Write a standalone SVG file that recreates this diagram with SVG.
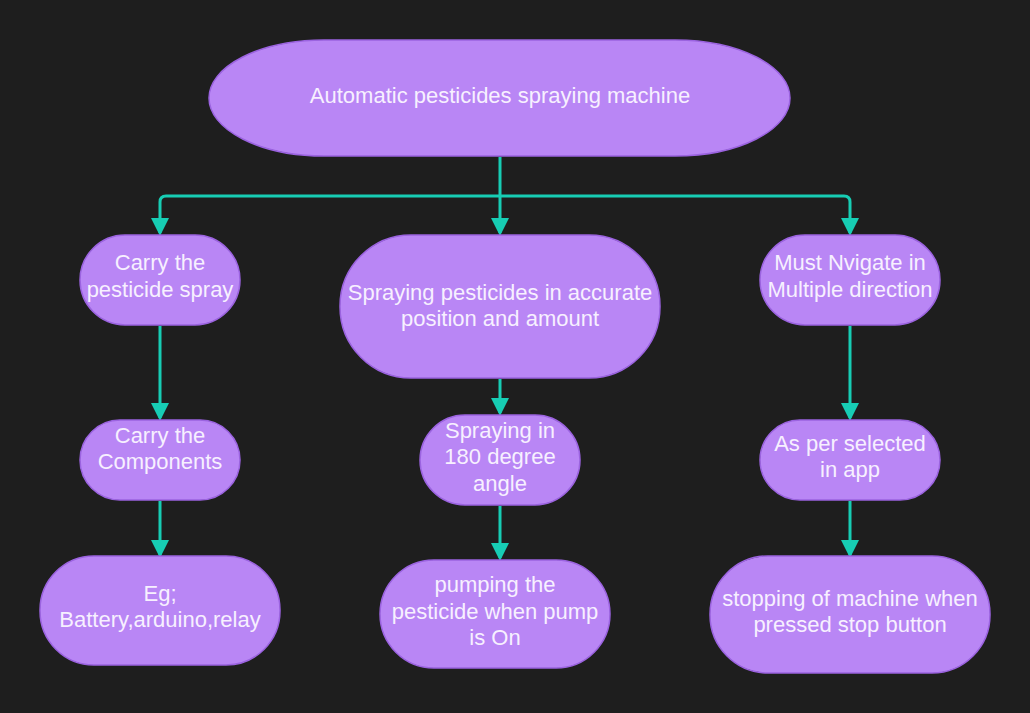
<svg xmlns="http://www.w3.org/2000/svg" width="1030" height="713" viewBox="0 0 1030 713">
  <style>
    .node { fill: #b986f5; stroke: #9b63e0; stroke-width: 1.5; }
    .label { fill: #f7f0ff; font-family: "Liberation Sans", Arial, sans-serif; font-size: 22px; text-anchor: middle; }
    .link { fill: none; stroke: #17cdb4; stroke-width: 3; stroke-linejoin: round; }
  </style>
  <defs>
    <marker id="arrow" markerWidth="6" markerHeight="6" refX="5" refY="3" orient="auto" markerUnits="strokeWidth">
      <path d="M0,0 L6,3 L0,6 Z" fill="#17cdb4"/>
    </marker>
  </defs>
  <rect width="1030" height="713" fill="#1e1e1e"/>

  <g id="connectors">
    <path class="link" d="M500,157 V233" marker-end="url(#arrow)"/>
    <path class="link" d="M500,196 H166 Q160,196 160,202 V233" marker-end="url(#arrow)"/>
    <path class="link" d="M500,196 H844 Q850,196 850,202 V233" marker-end="url(#arrow)"/>
    <path class="link" d="M160,326 V418" marker-end="url(#arrow)"/>
    <path class="link" d="M160,501 V555" marker-end="url(#arrow)"/>
    <path class="link" d="M500,379 V413" marker-end="url(#arrow)"/>
    <path class="link" d="M500,506 V558" marker-end="url(#arrow)"/>
    <path class="link" d="M850,326 V418" marker-end="url(#arrow)"/>
    <path class="link" d="M850,501 V555" marker-end="url(#arrow)"/>
  </g>

  <g id="root">
    <rect class="node" x="209" y="40" width="581" height="116" rx="115" ry="58"/>
    <text class="label" x="500" y="103">Automatic pesticides spraying machine</text>
  </g>

  <g id="carry-spray">
    <rect class="node" x="80" y="235" width="160" height="90" rx="45"/>
    <text class="label" x="160" y="270">Carry the</text>
    <text class="label" x="160" y="297">pesticide spray</text>
  </g>

  <g id="spraying-accurate">
    <rect class="node" x="340" y="235" width="320" height="143" rx="71"/>
    <text class="label" x="500" y="300">Spraying pesticides in accurate</text>
    <text class="label" x="500" y="326">position and amount</text>
  </g>

  <g id="navigate">
    <rect class="node" x="760" y="235" width="180" height="90" rx="45"/>
    <text class="label" x="850" y="270">Must Nvigate in</text>
    <text class="label" x="850" y="297">Multiple direction</text>
  </g>

  <g id="carry-components">
    <rect class="node" x="80" y="420" width="160" height="80" rx="40"/>
    <text class="label" x="160" y="443">Carry the</text>
    <text class="label" x="160" y="469">Components</text>
  </g>

  <g id="spraying-angle">
    <rect class="node" x="420" y="415" width="160" height="90" rx="45"/>
    <text class="label" x="500" y="438">Spraying in</text>
    <text class="label" x="500" y="464">180 degree</text>
    <text class="label" x="500" y="491">angle</text>
  </g>

  <g id="selected-in-app">
    <rect class="node" x="760" y="420" width="180" height="80" rx="40"/>
    <text class="label" x="850" y="451">As per selected</text>
    <text class="label" x="850" y="477">in app</text>
  </g>

  <g id="components-list">
    <rect class="node" x="40" y="556" width="240" height="109" rx="54"/>
    <text class="label" x="160" y="601">Eg;</text>
    <text class="label" x="160" y="627">Battery,arduino,relay</text>
  </g>

  <g id="pumping">
    <rect class="node" x="380" y="560" width="230" height="108" rx="54"/>
    <text class="label" x="495" y="592">pumping the</text>
    <text class="label" x="495" y="619">pesticide when pump</text>
    <text class="label" x="495" y="645">is On</text>
  </g>

  <g id="stopping">
    <rect class="node" x="710" y="556" width="280" height="117" rx="58"/>
    <text class="label" x="850" y="606">stopping of machine when</text>
    <text class="label" x="850" y="632">pressed stop button</text>
  </g>
</svg>
